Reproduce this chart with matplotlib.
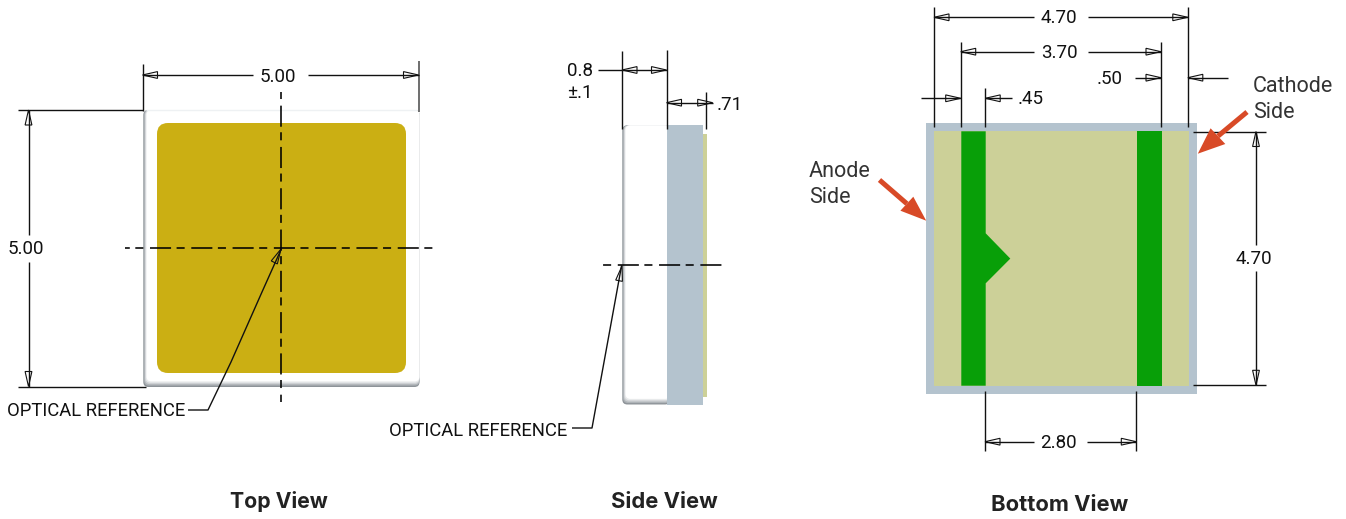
import numpy as np
import matplotlib
matplotlib.use("Agg")
import matplotlib.pyplot as plt
from matplotlib.patches import Polygon, Rectangle, FancyBboxPatch

# labels
view_titles = ["Top View", "Side View", "Bottom View"]
top_dims = ["5.00", "5.00"]
side_dims = ["0.8", "±.1", ".71"]
bottom_dims = ["4.70", "3.70", ".50", ".45", "4.70", "2.80"]
ref_label = "OPTICAL REFERENCE"
side_notes = ["Anode\nSide", "Cathode\nSide"]

GRAY = "#B4C3CE"
PAD = "#CCD098"
GREEN = "#089F08"
GOLD = "#CBAF13"
RED = "#D84A27"
INK = "#111111"

plt.rcParams['font.family'] = ['Roboto', 'DejaVu Sans']

fig = plt.figure(figsize=(13.46, 5.19), dpi=100)
ax = fig.add_axes([0, 0, 1, 1])
ax.set_xlim(0, 1346)
ax.set_ylim(519, 0)
ax.axis("off")


def line(xs, ys, lw=1.0, color=INK, **kw):
    ax.plot(xs, ys, color=color, lw=lw, solid_capstyle="butt", **kw)


def head(tip, tail, length=15, half=3.4):
    # open arrow head, the way the CAD export draws them
    tip = np.array(tip, float)
    d = np.array(tail, float) - tip
    d = d / np.hypot(*d)
    n = np.array([-d[1], d[0]])
    base = tip + d * length
    ax.add_patch(Polygon([tip, base + n * half, base - n * half], closed=True,
                         fill=False, ec=INK, lw=0.8, zorder=5))


def hdim(x0, x1, y, gap=None):
    if gap:
        line([x0, gap[0]], [y, y])
        line([gap[1], x1], [y, y])
    else:
        line([x0, x1], [y, y])
    head((x0, y), (x1, y))
    head((x1, y), (x0, y))


def vdim(x, y0, y1, gap):
    line([x, x], [y0, gap[0]])
    line([x, x], [gap[1], y1])
    head((x, y0), (x, y1))
    head((x, y1), (x, y0))


def centre(xs, ys, offset):
    # long-short centre line, dash units scale with lw
    ax.plot(xs, ys, color="black", lw=1.15, zorder=6,
            linestyle=(offset, (13.2, 3.45, 5.05, 4.15)), dash_capstyle="butt")


def dimtext(x, y, s, ha="center", size=13.5):
    ax.text(x, y, s, ha=ha, va="center", fontsize=size, color=INK)


def shaded(x0, y0, x1, y1, left=True):
    # body edge shading, dark at the bottom and left
    steps = ["#8E9499", "#AEB3B7", "#CDD0D3", "#E8EAEB", "#FFFFFF"]
    for i, c in enumerate(steps):
        ax.add_patch(FancyBboxPatch((x0 + (i * 0.8 if left else i * 0.35) + 3, y0 + 3),
                                    x1 - x0 - (i * 0.8 if left else i * 0.7) - 6,
                                    y1 - y0 - i * 1.4 - 6,
                                    boxstyle="round,pad=3,rounding_size=5", fc=c, ec="none", zorder=1))


# --- top view ---
shaded(143.3, 110, 419.5, 387)
line([146, 417], [110.3, 110.3], color="#EEF1F3", zorder=1.5)
ax.add_patch(FancyBboxPatch((167, 133), 229, 230, boxstyle="round,pad=10,rounding_size=11",
                            fc=GOLD, ec="none", zorder=2))
line([142.5, 142.5], [63.5, 111])
line([418.5, 418.5], [61, 112], color="#555555", lw=1.2)
hdim(142.5, 418.5, 75, gap=(253, 308))
dimtext(278, 77, top_dims[0])
line([18, 143], [110, 110])
line([18, 146], [386.5, 386.5])
vdim(28.5, 110, 386.5, (235, 262))
dimtext(26, 249.5, top_dims[1])
centre([125, 433.5], [248, 248], 10.2)
centre([281, 281], [91.7, 402], 17.3)
line([281.5, 262, 231, 208, 188], [248.5, 292, 362, 410, 410], zorder=7)
head((281, 249), (273, 265), length=15, half=3.4)
dimtext(7, 411, ref_label, ha="left", size=13.3)

# --- side view ---
shaded(622.3, 125.3, 670, 404.5)
ax.add_patch(Rectangle((667.3, 125.3), 35.4, 279.2, fc=GRAY, ec="none", zorder=2))
ax.add_patch(Rectangle((702.7, 134), 4.3, 262.7, fc=PAD, ec="none", zorder=2))
line([622, 622], [51, 129])
line([666.5, 666.5], [50, 129])
line([598, 622], [70, 70])
hdim(622, 666.5, 70)
dimtext(567, 70.5, side_dims[0], ha="left")
dimtext(567, 93.5, side_dims[1], ha="left")
hdim(666.5, 712.7, 102.7)
line([706.3, 706.3], [92, 129])
dimtext(717, 104.5, side_dims[2], ha="left")
centre([602.7, 721.5], [265, 265], 16.6)
line([621.7, 592, 572], [265, 428, 428], zorder=7)
head((622, 266), (619, 281), length=15, half=3.4)
dimtext(389, 430.5, ref_label, ha="left", size=13.3)

# --- bottom view ---
ax.add_patch(Rectangle((926, 123), 271, 270.5, fc=GRAY, ec="none", zorder=1))
ax.add_patch(Rectangle((934.3, 131.3), 254.7, 254.4, fc=PAD, ec="none", zorder=2))
ax.add_patch(Rectangle((1137.3, 131.3), 24.4, 254.4, fc=GREEN, ec="none", zorder=3))
ax.add_patch(Polygon([(961.3, 131.3), (985.7, 131.3), (985.7, 233.3), (1010.3, 258.6),
                      (985.7, 283.3), (985.7, 385.7), (961.3, 385.7)],
                     closed=True, fc=GREEN, ec="none", zorder=3))
for x, top in [(934, 7.3), (960.7, 41.7), (985.2, 88.3), (1161, 41.7), (1187.8, 7.3)]:
    line([x, x], [top, 126.7], zorder=4)
hdim(934, 1187.8, 17.3, gap=(1034, 1087.6))
dimtext(1059, 18, bottom_dims[0])
hdim(960.7, 1161, 51.7, gap=(1034, 1087.6))
dimtext(1059, 52.5, bottom_dims[1])
line([1134.7, 1161], [77.7, 77.7])
head((1161, 77.7), (1134, 77.7))
line([1187.8, 1228.2], [77.7, 77.7])
head((1187.8, 77.7), (1228, 77.7))
dimtext(1097, 78.5, bottom_dims[2], ha="left")
line([920.6, 960.7], [98.3, 98.3])
head((960.7, 98.3), (920, 98.3))
line([985.2, 1012], [98.3, 98.3])
head((985.2, 98.3), (1012, 98.3))
dimtext(1018, 99.5, bottom_dims[3], ha="left")
line([1193, 1266.4], [131.5, 131.5], zorder=6)
line([1192.7, 1266.3], [385.3, 385.3], zorder=6)
vdim(1256, 131.5, 385.3, (245, 271))
dimtext(1253.5, 259.5, bottom_dims[4])
for x in (985, 1136.3):
    line([x, x], [390.7, 451.3])
hdim(985, 1136.3, 441.7, gap=(1034, 1087.3))
dimtext(1058, 442.5, bottom_dims[5])

# red pointers
for start, tip, w1, w2 in [((879.5, 180), (926.2, 220.7), (900.4, 210.7), (913.3, 196.7)),
                           ((1247, 112), (1197.8, 153.7), (1210.6, 128.3), (1225.3, 144))]:
    mid = (np.array(w1) + np.array(w2)) / 2
    ax.plot([start[0], mid[0]], [start[1], mid[1]], color=RED, lw=3.6,
            solid_capstyle="butt", zorder=7)
    ax.add_patch(Polygon([tip, w1, w2], closed=True, fc=RED, ec="none", zorder=7))

ax.text(809, 184.5, side_notes[0], ha="left", va="center", fontsize=15.5, color="#333333",
        linespacing=1.32)
ax.text(1253, 99.5, side_notes[1], ha="left", va="center", fontsize=15.5, color="#333333",
        linespacing=1.32)

# titles
for x, y, s, size in zip([278.5, 664.5, 1059.5], [501, 502, 505], view_titles, [15.3, 15.8, 15.8]):
    ax.text(x, y, s, ha="center", va="center", fontsize=size, fontweight="bold",
            family="Inter", color="#222222")

fig.savefig("out.png", dpi=100)
